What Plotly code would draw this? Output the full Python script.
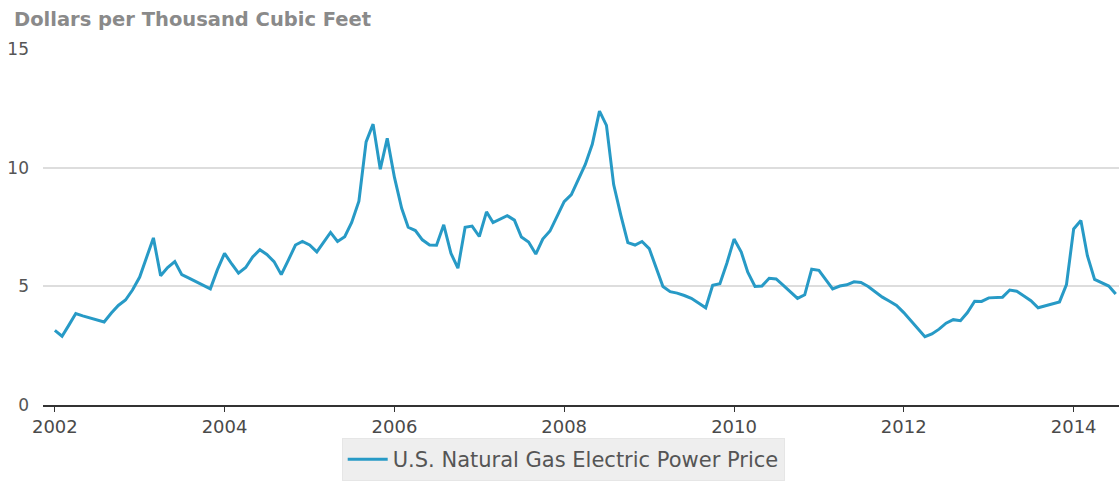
import pandas as pd
import plotly.graph_objects as go

# Monthly U.S. natural gas price paid by electric power generators ($/Mcf)
price_2002 = [3.15, 2.90, 3.35, 3.86, 3.76, 3.67, 3.57, 3.50, 3.88, 4.20, 4.43, 4.85]
price_2003 = [5.40, 6.30, 7.05, 5.45, 5.80, 6.05, 5.50, 5.35, 5.20, 5.05, 4.90, 5.70]
price_2004 = [6.40, 5.95, 5.56, 5.80, 6.25, 6.55, 6.35, 6.05, 5.50, 6.10, 6.75, 6.90]
price_2005 = [6.75, 6.46, 6.85, 7.28, 6.90, 7.10, 7.70, 8.60, 11.10, 11.85, 9.95, 11.25]
price_2006 = [9.60, 8.30, 7.50, 7.36, 6.97, 6.75, 6.74, 7.60, 6.40, 5.77, 7.50, 7.55]
price_2007 = [7.11, 8.15, 7.70, 7.85, 7.99, 7.80, 7.09, 6.88, 6.37, 7.00, 7.34, 7.95]
price_2008 = [8.58, 8.88, 9.50, 10.15, 11.00, 12.40, 11.80, 9.30, 8.00, 6.85, 6.75, 6.90]
price_2009 = [6.60, 5.80, 5.00, 4.78, 4.72, 4.62, 4.50, 4.30, 4.10, 5.05, 5.12, 5.98]
price_2010 = [7.00, 6.45, 5.60, 5.00, 5.02, 5.35, 5.32, 5.05, 4.75, 4.50, 4.65, 5.73]
price_2011 = [5.68, 5.29, 4.90, 5.02, 5.07, 5.20, 5.17, 5.00, 4.77, 4.55, 4.38, 4.20]
price_2012 = [3.90, 3.55, 3.20, 2.88, 3.00, 3.20, 3.45, 3.60, 3.56, 3.90, 4.38, 4.37]
price_2013 = [4.52, 4.55, 4.55, 4.85, 4.80, 4.60, 4.40, 4.10, 4.18, 4.27, 4.35, 5.08]
price_2014 = [7.43, 7.78, 6.30, 5.30, 5.15, 5.02, 4.68]

series_name = "U.S. Natural Gas Electric Power Price"
unit_label = "Dollars per Thousand Cubic Feet"
x_ticks = ["2002", "2004", "2006", "2008", "2010", "2012", "2014"]
y_ticks = [0, 5, 10, 15]

prices = (price_2002 + price_2003 + price_2004 + price_2005 + price_2006
          + price_2007 + price_2008 + price_2009 + price_2010 + price_2011
          + price_2012 + price_2013 + price_2014)
months = pd.date_range("2002-01-01", periods=len(prices), freq="MS")

FONT = "DejaVu Sans"

fig = go.Figure()
fig.add_trace(go.Scatter(
    x=months, y=prices, mode="lines", name=series_name,
    line=dict(color="#279ac6", width=3),
))

fig.update_layout(
    width=1119, height=481,
    margin=dict(l=43, r=0, t=49, b=70),
    paper_bgcolor="white", plot_bgcolor="white",
    showlegend=True,
    legend=dict(
        orientation="h", x=0.2776, xanchor="left", y=-0.094, yanchor="top",
        bgcolor="#eeeeee", bordercolor="#e6e6e6", borderwidth=1,
        font=dict(family=FONT, size=21, color="#555555"),
        itemwidth=40,
    ),
    annotations=[dict(
        text="<b>" + unit_label + "</b>", xref="paper", yref="paper",
        x=-0.029, y=1.0, xanchor="left", yanchor="bottom", yshift=16,
        showarrow=False, font=dict(family=FONT, size=19.5, color="#8a8a8a"),
    )],
)

fig.update_xaxes(
    type="date", range=["2001-11-11", "2014-07-15"],
    tickvals=[pd.Timestamp(y + "-01-01") for y in x_ticks], ticktext=x_ticks,
    showgrid=False, zeroline=False,
    showline=True, linecolor="#333333", linewidth=1.5,
    ticks="outside", ticklen=5, tickcolor="#333333", tickwidth=1,
    tickfont=dict(family=FONT, size=18, color="#4a4a4a"),
)

fig.update_yaxes(
    range=[0, 15.02], tickvals=y_ticks,
    showgrid=True, gridcolor="#dddddd", gridwidth=2,
    zeroline=False, showline=False, ticks="",
    ticklabelstandoff=13,
    tickfont=dict(family=FONT, size=17, color="#555555"),
)

fig.write_html("out.html")
